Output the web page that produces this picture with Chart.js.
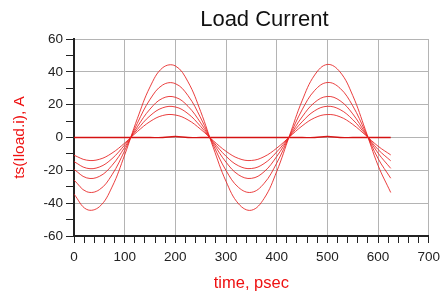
<!DOCTYPE html>
<html>
<head>
<meta charset="utf-8">
<script src="https://cdn.jsdelivr.net/npm/chart.js@4/dist/chart.umd.min.js"></script>
<style>
  html, body { margin: 0; padding: 0; background: #fff; }
  #wrap { width: 446px; height: 293px; }
</style>
</head>
<body>
<div id="wrap"><canvas id="load_current"></canvas></div>
<script>
// time axis, psec
const times = [0, 25, 50, 75, 100, 125, 150, 175, 200, 225, 250, 275, 300,
    325, 350, 375, 400, 425, 450, 475, 500, 525, 550, 575, 600, 625];

// load current curves, A
const curveA = [-34.5, -43.8, -42.2, -30.2, -10.6, 11.5, 30.8, 42.5, 43.6, 33.9, 15.8, -6.3, -26.7,
    -40.5, -44.3, -37.2, -20.7, 0.9, 22.3, 38.1, 44.5, 39.9, 25.6, 4.7, -17.0, -33.5];
const curveB = [-25.9, -33.0, -31.8, -22.7, -8.0, 8.7, 23.2, 32.0, 32.8, 25.5, 11.9, -4.7, -20.1,
    -30.5, -33.4, -28.0, -15.6, 0.7, 16.8, 28.7, 33.5, 30.0, 19.3, 3.5, -12.8, -24.8];
const curveC = [-19.4, -24.6, -23.7, -17.0, -6.0, 6.5, 17.3, 23.9, 24.5, 19.0, 8.9, -3.5, -15.0,
    -22.8, -24.9, -20.9, -11.6, 0.5, 12.5, 21.4, 25.0, 22.4, 14.4, 2.6, -9.5, -18.8];
const curveD = [-14.7, -18.7, -18.0, -12.9, -4.5, 4.9, 13.2, 18.1, 18.6, 14.5, 6.7, -2.7, -11.4,
    -17.3, -18.9, -15.9, -8.8, 0.4, 9.5, 16.3, 19.0, 17.0, 10.9, 2.0, -7.3, -14.2];
const curveE = [-10.8, -13.8, -13.3, -9.5, -3.4, 3.6, 9.7, 13.4, 13.7, 10.7, 5.0, -2.0, -8.4,
    -12.8, -14.0, -11.7, -6.5, 0.3, 7.0, 12.0, 14.0, 12.6, 8.0, 1.5, -5.3, -10.6];
// flat trace with a tiny hump at each peak
const curveF = [0, 0, 0, 0, 0, 0, 0, 0, 0.6, 0, 0, 0, 0,
    0, 0, 0, 0, 0, 0, 0, 0.6, 0, 0, 0, 0, 0];

const curves = [curveA, curveB, curveC, curveD, curveE, curveF];
const xTicks = [0, 100, 200, 300, 400, 500, 600, 700];
const yTicks = [-60, -40, -20, 0, 20, 40, 60];

const FONT = "'Liberation Sans', Arial, sans-serif";
const RED = "#ee1111";
const GRID = "#b4b4b4";

// title sits a little right of the plot centre in the original
const titlePlugin = {
    id: "adsTitle",
    afterDraw(chart) {
        const ctx = chart.ctx;
        ctx.save();
        ctx.font = "22px " + FONT;
        ctx.fillStyle = "#111";
        ctx.textAlign = "center";
        ctx.textBaseline = "middle";
        ctx.fillText("Load Current", (chart.chartArea.left + chart.chartArea.right) / 2 + 13, 20);
        ctx.restore();
    },
};

new Chart(document.getElementById("load_current"), {
    type: "line",
    plugins: [titlePlugin],
    data: {
        datasets: curves.map((vals, i) => ({
            data: vals.map((v, k) => ({ x: times[k], y: v })),
            borderColor: i === 5 ? "rgba(215,0,0,0.9)" : "rgba(230,30,30,0.85)",
            borderWidth: i === 5 ? 1.3 : 1,
            pointRadius: 0,
            tension: 0.4,
            fill: false,
        })),
    },
    options: {
        responsive: true,
        maintainAspectRatio: false,
        animation: false,
        layout: { padding: { top: 39, right: 10, left: 0, bottom: 0 } },
        plugins: {
            legend: { display: false },
            tooltip: { enabled: false },
            title: { display: false },
        },
        scales: {
            x: {
                type: "linear",
                min: 0,
                max: 700,
                afterFit: (scale) => { scale.height = 57; },
                ticks: {
                    stepSize: 20,
                    autoSkip: false,
                    maxRotation: 0,
                    padding: 6,
                    color: "#222",
                    font: { family: FONT, size: 13.5 },
                    callback: (v) => (xTicks.includes(v) ? String(v) : ""),
                },
                grid: {
                    color: (c) => (xTicks.includes(c.tick.value) ? GRID : "rgba(0,0,0,0)"),
                    tickColor: "#222",
                    tickLength: 7,
                    tickWidth: 1,
                },
                border: { color: "#222", width: 2 },
                title: {
                    display: true,
                    text: "time, psec",
                    color: RED,
                    font: { family: FONT, size: 16.5 },
                    padding: { top: 4, bottom: 0 },
                },
            },
            y: {
                min: -60,
                max: 60,
                afterFit: (scale) => { scale.width = 74; },
                ticks: {
                    stepSize: 10,
                    autoSkip: false,
                    padding: 3,
                    color: "#222",
                    font: { family: FONT, size: 13.5 },
                    callback: (v) => (yTicks.includes(v) ? String(v) : ""),
                },
                grid: {
                    color: (c) => (yTicks.includes(c.tick.value) ? GRID : "rgba(0,0,0,0)"),
                    tickColor: "#222",
                    tickLength: 8,
                    tickWidth: 1,
                },
                border: { color: "#222", width: 2 },
                title: {
                    display: true,
                    text: "ts(Iload.i), A",
                    color: RED,
                    font: { family: FONT, size: 15.5 },
                    padding: { top: 10, bottom: 0 },
                },
            },
        },
    },
});
</script>
</body>
</html>
